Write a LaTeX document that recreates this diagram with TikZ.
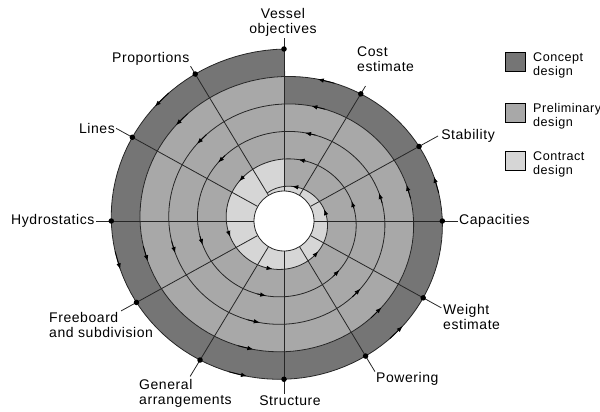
\documentclass[tikz,border=0pt]{standalone}
\usepackage{fontspec}
\setmainfont{Liberation Sans}[LetterSpace=4]
\usetikzlibrary{arrows.meta}
\definecolor{concept}{gray}{0.46}
\definecolor{prelim}{gray}{0.66}
\definecolor{contract}{gray}{0.84}

\begin{document}
\begin{tikzpicture}[x=1pt,y=-1pt,
    declare function={sr(\t)=172-27.5*\t;
      sx(\t)=284+1.046*sr(\t)*cos(90+360*\t);
      sy(\t)=221-sr(\t)*sin(90+360*\t);
      px(\a,\r)=284+1.046*\r*cos(\a);
      py(\a,\r)=221-\r*sin(\a);},
    spiralline/.style={black!85,line width=0.8pt},
    sparrow/.style={black,line width=0.8pt,-{Latex[length=6pt,width=4.5pt]}},
    spokedot/.style={circle,fill=black,inner sep=0pt,minimum size=5.5pt},
    lbl/.style={font=\fontsize{14}{15}\selectfont,inner sep=1pt,align=left},
    legendtext/.style={lbl,font=\fontsize{12.6}{14}\selectfont},
    legendbox/.style={draw=black,line width=0.6pt,minimum width=20pt,minimum height=19pt,inner sep=0pt}]
    \useasboundingbox (0,0) rectangle (600,412);
    \fill[concept] plot[domain=0:1,samples=120] ({sx(\x)},{sy(\x)}) -- cycle;
    \fill[prelim] plot[domain=1:2,samples=120] ({sx(\x)},{sy(\x)}) -- cycle;
    \fill[contract] plot[domain=4:5,samples=120] ({sx(\x)},{sy(\x)}) -- cycle;%
    \node[circle,draw=black!85,line width=0.8pt,fill=white,minimum size=60pt,inner sep=0pt] (hub) at (284,221) {};
    \coordinate (end0) at ({px(90,sr(0)+11)},{py(90,sr(0)+11)});
    \coordinate (end1) at ({px(120,sr(1/12)+9)},{py(120,sr(1/12)+9)});
    \coordinate (end2) at ({px(150,sr(2/12)+18)},{py(150,sr(2/12)+18)});
    \coordinate (end3) at ({px(180,sr(3/12)+15)},{py(180,sr(3/12)+15)});
    \coordinate (end4) at ({px(210,sr(4/12)+17)},{py(210,sr(4/12)+17)});
    \coordinate (end5) at ({px(240,sr(5/12)+19)},{py(240,sr(5/12)+19)});
    \coordinate (end6) at ({px(270,sr(6/12)+15)},{py(270,sr(6/12)+15)});
    \coordinate (end7) at ({px(300,sr(7/12)+18)},{py(300,sr(7/12)+18)});
    \coordinate (end8) at ({px(330,sr(8/12)+20)},{py(330,sr(8/12)+20)});
    \coordinate (end9) at ({px(0,sr(9/12)+15)},{py(0,sr(9/12)+15)});
    \coordinate (end10) at ({px(30,sr(10/12)+21)},{py(30,sr(10/12)+21)});
    \coordinate (end11) at ({px(60,sr(11/12)+9)},{py(60,sr(11/12)+9)});%
    \draw[spiralline] (hub) -- (end0);
    \draw[spiralline] (hub) -- (end1);
    \draw[spiralline] (hub) -- (end2);
    \draw[spiralline] (hub) -- (end3);
    \draw[spiralline] (hub) -- (end4);
    \draw[spiralline] (hub) -- (end5);
    \draw[spiralline] (hub) -- (end6);
    \draw[spiralline] (hub) -- (end7);
    \draw[spiralline] (hub) -- (end8);
    \draw[spiralline] (hub) -- (end9);
    \draw[spiralline] (hub) -- (end10);
    \draw[spiralline] (hub) -- (end11);%
    \draw[spiralline] plot[domain=0:61/12,samples=600] ({sx(\x)},{sy(\x)});
    \foreach \m in {0,...,29}
      \draw[sparrow] plot[domain={(4*\m+3)/24-0.012}:{(4*\m+3)/24+0.006},samples=2] ({sx(\x)},{sy(\x)});%
    \node[spokedot] (dot0) at ({sx(0)},{sy(0)}) {};
    \node[spokedot] (dot1) at ({sx(1/12)},{sy(1/12)}) {};
    \node[spokedot] (dot2) at ({sx(2/12)},{sy(2/12)}) {};
    \node[spokedot] (dot3) at ({sx(3/12)},{sy(3/12)}) {};
    \node[spokedot] (dot4) at ({sx(4/12)},{sy(4/12)}) {};
    \node[spokedot] (dot5) at ({sx(5/12)},{sy(5/12)}) {};
    \node[spokedot] (dot6) at ({sx(6/12)},{sy(6/12)}) {};
    \node[spokedot] (dot7) at ({sx(7/12)},{sy(7/12)}) {};
    \node[spokedot] (dot8) at ({sx(8/12)},{sy(8/12)}) {};
    \node[spokedot] (dot9) at ({sx(9/12)},{sy(9/12)}) {};
    \node[spokedot] (dot10) at ({sx(10/12)},{sy(10/12)}) {};
    \node[spokedot] (dot11) at ({sx(11/12)},{sy(11/12)}) {};%
    \node[lbl,align=center,anchor=north] (vessel) at (283,7) {Vessel\\objectives};
    \node[lbl,anchor=south east] (proportions) at (end1) {Proportions};
    \node[lbl,anchor=east] (lines) at (end2) {Lines};
    \node[lbl,anchor=east] (hydrostatics) at (end3) {Hydrostatics};
    \node[lbl,anchor=north west] (freeboard) at (48,311) {Freeboard\\and subdivision};
    \node[lbl,anchor=north west] (arrangements) at (138,378) {General\\arrangements};
    \node[lbl,anchor=north] (structure) at (290,394.5) {Structure};
    \node[lbl,anchor=north west] (powering) at (end7) {Powering};
    \node[lbl,anchor=north west] (weight) at (442,303) {Weight\\estimate};
    \node[lbl,anchor=west] (capacities) at (end9) {Capacities};
    \node[lbl,anchor=west,xshift=2pt] (stability) at (end10) {Stability};
    \node[lbl,anchor=north west] (cost) at (356,46) {Cost\\estimate};%
    \node[legendbox,fill=concept] (conceptkey) at (515,62) {};
    \node[legendbox,fill=prelim] (prelimkey) at (515,112.3) {};
    \node[legendbox,fill=contract] (contractkey) at (515,161.2) {};
    \node[legendtext,anchor=north west] (concepttext) at (532,52) {Concept\\design};
    \node[legendtext,anchor=north west] (prelimtext) at (532,102) {Preliminary\\design};
    \node[legendtext,anchor=north west] (contracttext) at (532,151) {Contract\\design};
\end{tikzpicture}
\end{document}
